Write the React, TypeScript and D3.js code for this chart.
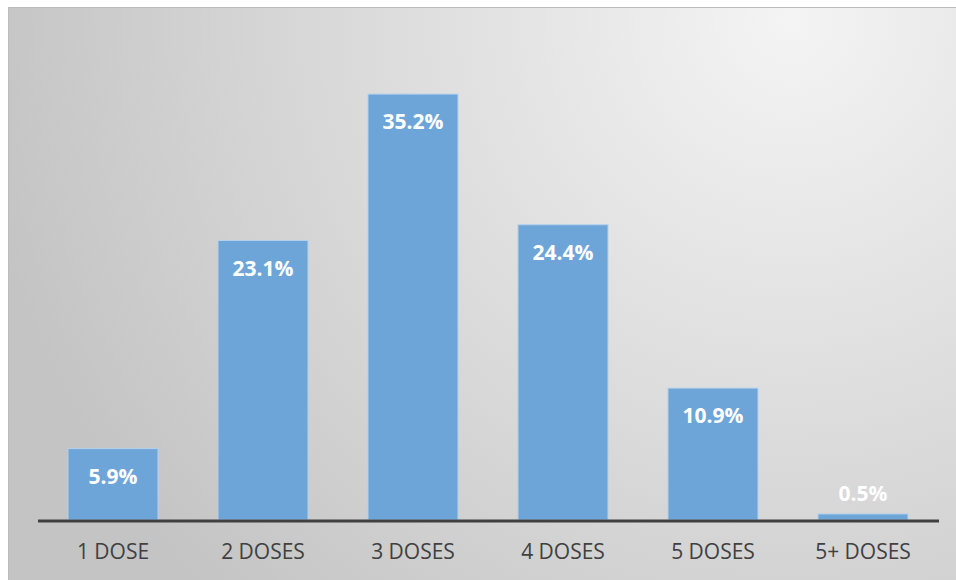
import { useEffect, useRef } from "react"
import * as d3 from "d3"

const categories = ["1 DOSE", "2 DOSES", "3 DOSES", "4 DOSES", "5 DOSES", "5+ DOSES"]
const shares = [5.9, 23.1, 35.2, 24.4, 10.9, 0.5]

const WIDTH = 956
const HEIGHT = 580

const App = () => {
    const svgRef = useRef<SVGSVGElement>(null)

    useEffect(() => {
        const svg = d3.select(svgRef.current)
        svg.selectAll("*").remove()

        // background gradient, lightest near the top right
        const defs = svg.append("defs")
        const grad = defs.append("radialGradient")
            .attr("id", "bg")
            .attr("gradientUnits", "userSpaceOnUse")
            .attr("cx", 790).attr("cy", 20).attr("r", 820)
        grad.append("stop").attr("offset", "0%").attr("stop-color", "#f4f4f4")
        grad.append("stop").attr("offset", "100%").attr("stop-color", "#c4c4c4")

        svg.append("rect")
            .attr("x", 8).attr("y", 7)
            .attr("width", WIDTH).attr("height", HEIGHT)
            .attr("fill", "url(#bg)")
        svg.append("line")
            .attr("x1", 8).attr("x2", WIDTH).attr("y1", 7.5).attr("y2", 7.5)
            .attr("stroke", "#bcbcbc")
        svg.append("line")
            .attr("x1", 8.5).attr("x2", 8.5).attr("y1", 7).attr("y2", HEIGHT)
            .attr("stroke", "#bcbcbc")

        const x = d3.scaleBand()
            .domain(categories)
            .range([38, 938])
            .paddingInner(0.4)
            .paddingOuter(0.2)
        const y = d3.scaleLinear()
            .domain([0, 40])
            .range([520, 36])

        const data = categories.map((c, i) => ({ c, v: shares[i] }))

        svg.append("g")
            .selectAll("rect")
            .data(data)
            .join("rect")
            .attr("x", d => x(d.c)!)
            .attr("y", d => y(d.v))
            .attr("width", x.bandwidth())
            .attr("height", d => y(0) - y(d.v))
            .attr("fill", "#6ea5d8")
            .attr("stroke", "#b4d0ec")
            .attr("stroke-width", 1)

        // baseline
        svg.append("line")
            .attr("x1", 38).attr("x2", 939)
            .attr("y1", y(0) + 1).attr("y2", y(0) + 1)
            .attr("stroke", "#404040")
            .attr("stroke-width", 3)

        // value labels
        svg.append("g")
            .selectAll("text")
            .data(data)
            .join("text")
            .attr("x", d => x(d.c)! + x.bandwidth() / 2)
            .attr("y", d => (y(0) - y(d.v) < 40 ? y(d.v) - 20 : y(d.v) + 28))
            .attr("dy", "0.35em")
            .attr("text-anchor", "middle")
            .attr("fill", "#ffffff")
            .attr("font-family", "'Open Sans', sans-serif")
            .attr("font-weight", "bold")
            .attr("font-size", 21)
            .text(d => `${d.v.toFixed(1)}%`)

        // category axis
        const axis = svg.append("g")
            .attr("transform", `translate(0,${y(0)})`)
            .call(d3.axisBottom(x).tickSize(0).tickPadding(0))
        axis.select(".domain").remove()
        axis.selectAll("text")
            .attr("y", 32)
            .attr("dy", "0.35em")
            .attr("fill", "#404040")
            .attr("font-family", "'Open Sans', sans-serif")
            .attr("font-size", 21)
    }, [])

    return (
        <svg
            ref={svgRef}
            width={WIDTH}
            height={HEIGHT}
            style={{ position: "absolute", left: 0, top: 0 }}
        ></svg>
    )
}

export default App
